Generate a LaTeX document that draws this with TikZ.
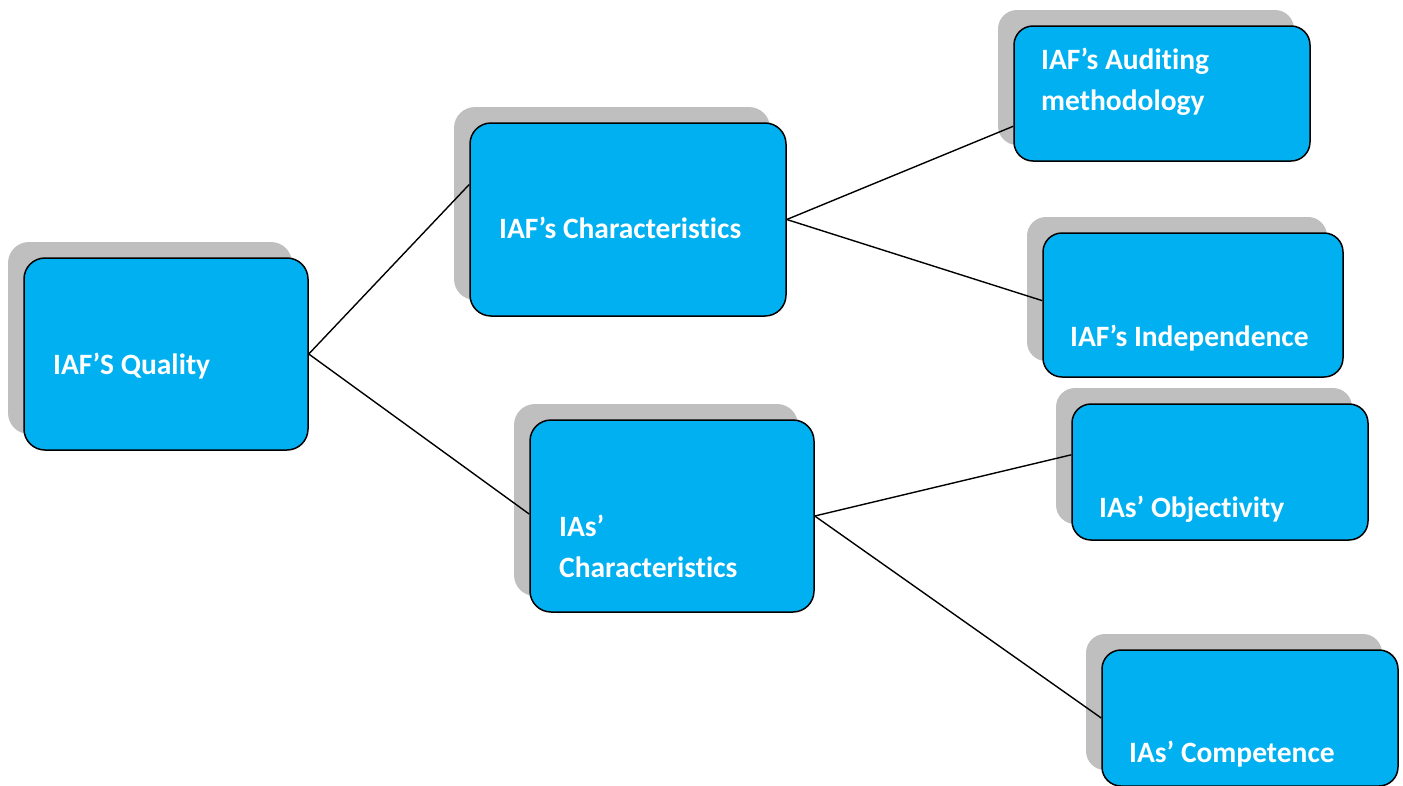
\documentclass[tikz,border=0pt]{standalone}
\usepackage{fontspec}
\setmainfont{Carlito}[Ligatures=CommonOff]
\usetikzlibrary{shadows,calc}
\definecolor{boxblue}{HTML}{00B0F0}
\definecolor{shadowgray}{HTML}{BFBFBF}
\begin{document}
\begin{tikzpicture}[x=1pt,y=-1pt,
  box/.style={draw=black,line width=1.5pt,fill=boxblue,rounded corners=#1,
    inner sep=0pt,
    general shadow={fill=shadowgray,shadow xshift=-16pt,shadow yshift=16pt,draw=none}},
  box/.default=21pt,
  lbl/.style={anchor=base west,inner sep=0pt,text=white,align=left,
    font=\fontsize{29.5}{41}\selectfont\bfseries},
  conn/.style={draw=black,line width=1.4pt}]
\useasboundingbox (0,0) rectangle (1403,785);
% boxes
\node[box,minimum width=284pt,minimum height=192pt] (q) at (166,354) {};
\node[box,minimum width=316pt,minimum height=193pt] (fc) at (628,219.5) {};
\node[box,minimum width=284pt,minimum height=192pt] (ic) at (672,516) {};
\node[box=19pt,minimum width=296pt,minimum height=135pt] (am) at (1162,93.5) {};
\node[box=19pt,minimum width=300pt,minimum height=144pt] (ind) at (1193,305) {};
\node[box=19pt,minimum width=296pt,minimum height=136pt] (obj) at (1220,472) {};
\node[box=19pt,minimum width=296pt,minimum height=136pt] (comp) at (1250,718) {};
% labels
\node[lbl] (tq) at (53,374) {IAF’S Quality};
\node[lbl] (tfc) at (499,238) {IAF’s Characteristics};
\node[lbl] (tic) at (559,577) {IAs’\\Characteristics};
\node[lbl] (tam) at (1041,110) {IAF’s Auditing\\methodology};
\node[lbl] (tind) at (1070,346) {IAF’s Independence};
\node[lbl] (tobj) at (1099,517) {IAs’ Objectivity};
\node[lbl] (tcomp) at (1129,762) {IAs’ Competence};
% connectors
\draw[conn] (q.east) -- ($(fc.north west)!0.32!(fc.south west)$);
\draw[conn] (q.east) -- ($(ic.north west)!0.49!(ic.south west)$);
\draw[conn] (fc.east) -- ($(am.north west)!0.74!(am.south west)$);
\draw[conn] (fc.east) -- ($(ind.north west)!0.47!(ind.south west)$);
\draw[conn] (ic.east) -- ($(obj.north west)!0.375!(obj.south west)$);
\draw[conn] (ic.east) -- (comp.west);
\end{tikzpicture}
\end{document}
